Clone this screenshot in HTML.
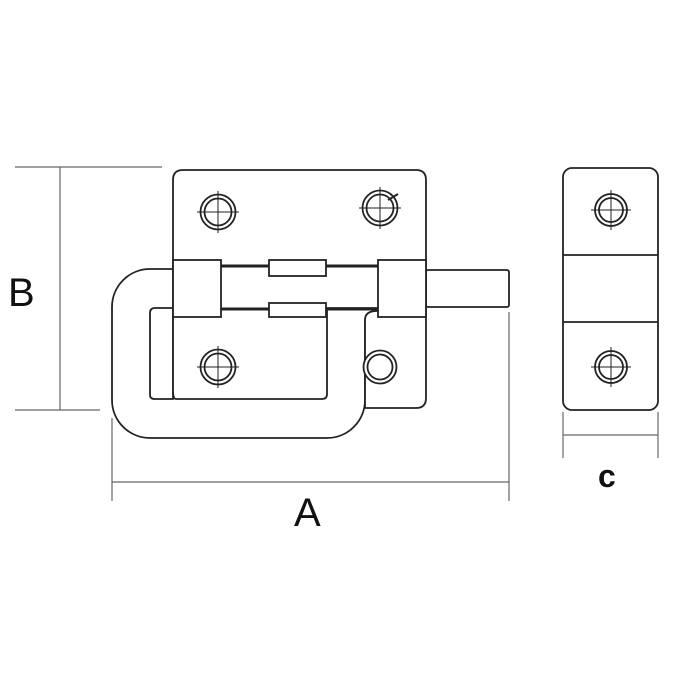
<!DOCTYPE html><html><head><style>body{margin:0;background:#fff}</style></head><body>
<svg width="680" height="680" viewBox="0 0 680 680" xmlns="http://www.w3.org/2000/svg">
<g fill="none" stroke="#666" stroke-width="1.2">
<line x1="15" y1="167" x2="162" y2="167"/><line x1="15" y1="410" x2="100" y2="410"/><line x1="60" y1="167" x2="60" y2="410"/>
<line x1="112" y1="418" x2="112" y2="501"/><line x1="509" y1="312" x2="509" y2="501"/><line x1="112" y1="482" x2="509" y2="482"/>
<line x1="563" y1="412" x2="563" y2="458"/><line x1="658" y1="412" x2="658" y2="458"/><line x1="563" y1="435" x2="658" y2="435"/>
</g>
<g fill="#fff" stroke="#222" stroke-width="1.8">
<path d="M173 269 H150 A38 38 0 0 0 112 307 V400 A38 38 0 0 0 150 438 H327 A38 38 0 0 0 365 400 V320 Q365 311 377 311 H378 V269 Z"/>
<path d="M173 308 H155 Q150 308 150 313 V395 Q150 399 155 399 H173 Z"/>
<path d="M183 170 H416 Q426 170 426 180 V398 Q426 408 416 408 H365 V320 Q365 311 377 311 V308 H327 V394 Q327 399 322 399 H176 Q173 399 173 390 V180 Q173 170 183 170 Z"/>
<rect x="426" y="270" width="83" height="37" rx="2"/>
<line x1="221" y1="266" x2="378" y2="266" stroke-width="3"/>
<line x1="221" y1="309" x2="378" y2="309" stroke-width="3"/>
<rect x="269" y="260" width="57" height="16"/>
<rect x="269" y="303" width="57" height="14"/>
<rect x="173" y="260" width="48" height="57"/>
<rect x="378" y="260" width="48" height="57"/>
<circle cx="218" cy="212" r="17.5"/><circle cx="218" cy="212" r="13.5"/>
<circle cx="380" cy="208" r="17.5"/><circle cx="380" cy="208" r="13.5"/>
<circle cx="218" cy="367" r="17.5"/><circle cx="218" cy="367" r="13.5"/>
<circle cx="380" cy="367" r="16.5"/><circle cx="380" cy="367" r="12.5"/>
<rect x="563" y="168" width="95" height="242" rx="9"/>
<line x1="563" y1="255" x2="658" y2="255"/><line x1="563" y1="322" x2="658" y2="322"/>
<circle cx="611" cy="210" r="16"/><circle cx="611" cy="210" r="12"/>
<circle cx="611" cy="367" r="16"/><circle cx="611" cy="367" r="12"/>
</g>
<g stroke="#222" stroke-width="1">
<path d="M197 212H239M218 191V233M359 208H401M380 187V229M197 367H239M218 346V388M591 210H631M611 190V230M591 367H631M611 347V387"/>
<line x1="388" y1="200" x2="398" y2="194" stroke-width="2"/>
</g>
<g font-family="Liberation Sans, sans-serif" fill="#111">
<text x="8" y="306" font-size="40">B</text>
<text x="294" y="526" font-size="40">A</text>
<text x="598" y="487" font-size="32" font-weight="bold">c</text>
</g>
</svg></body></html>
